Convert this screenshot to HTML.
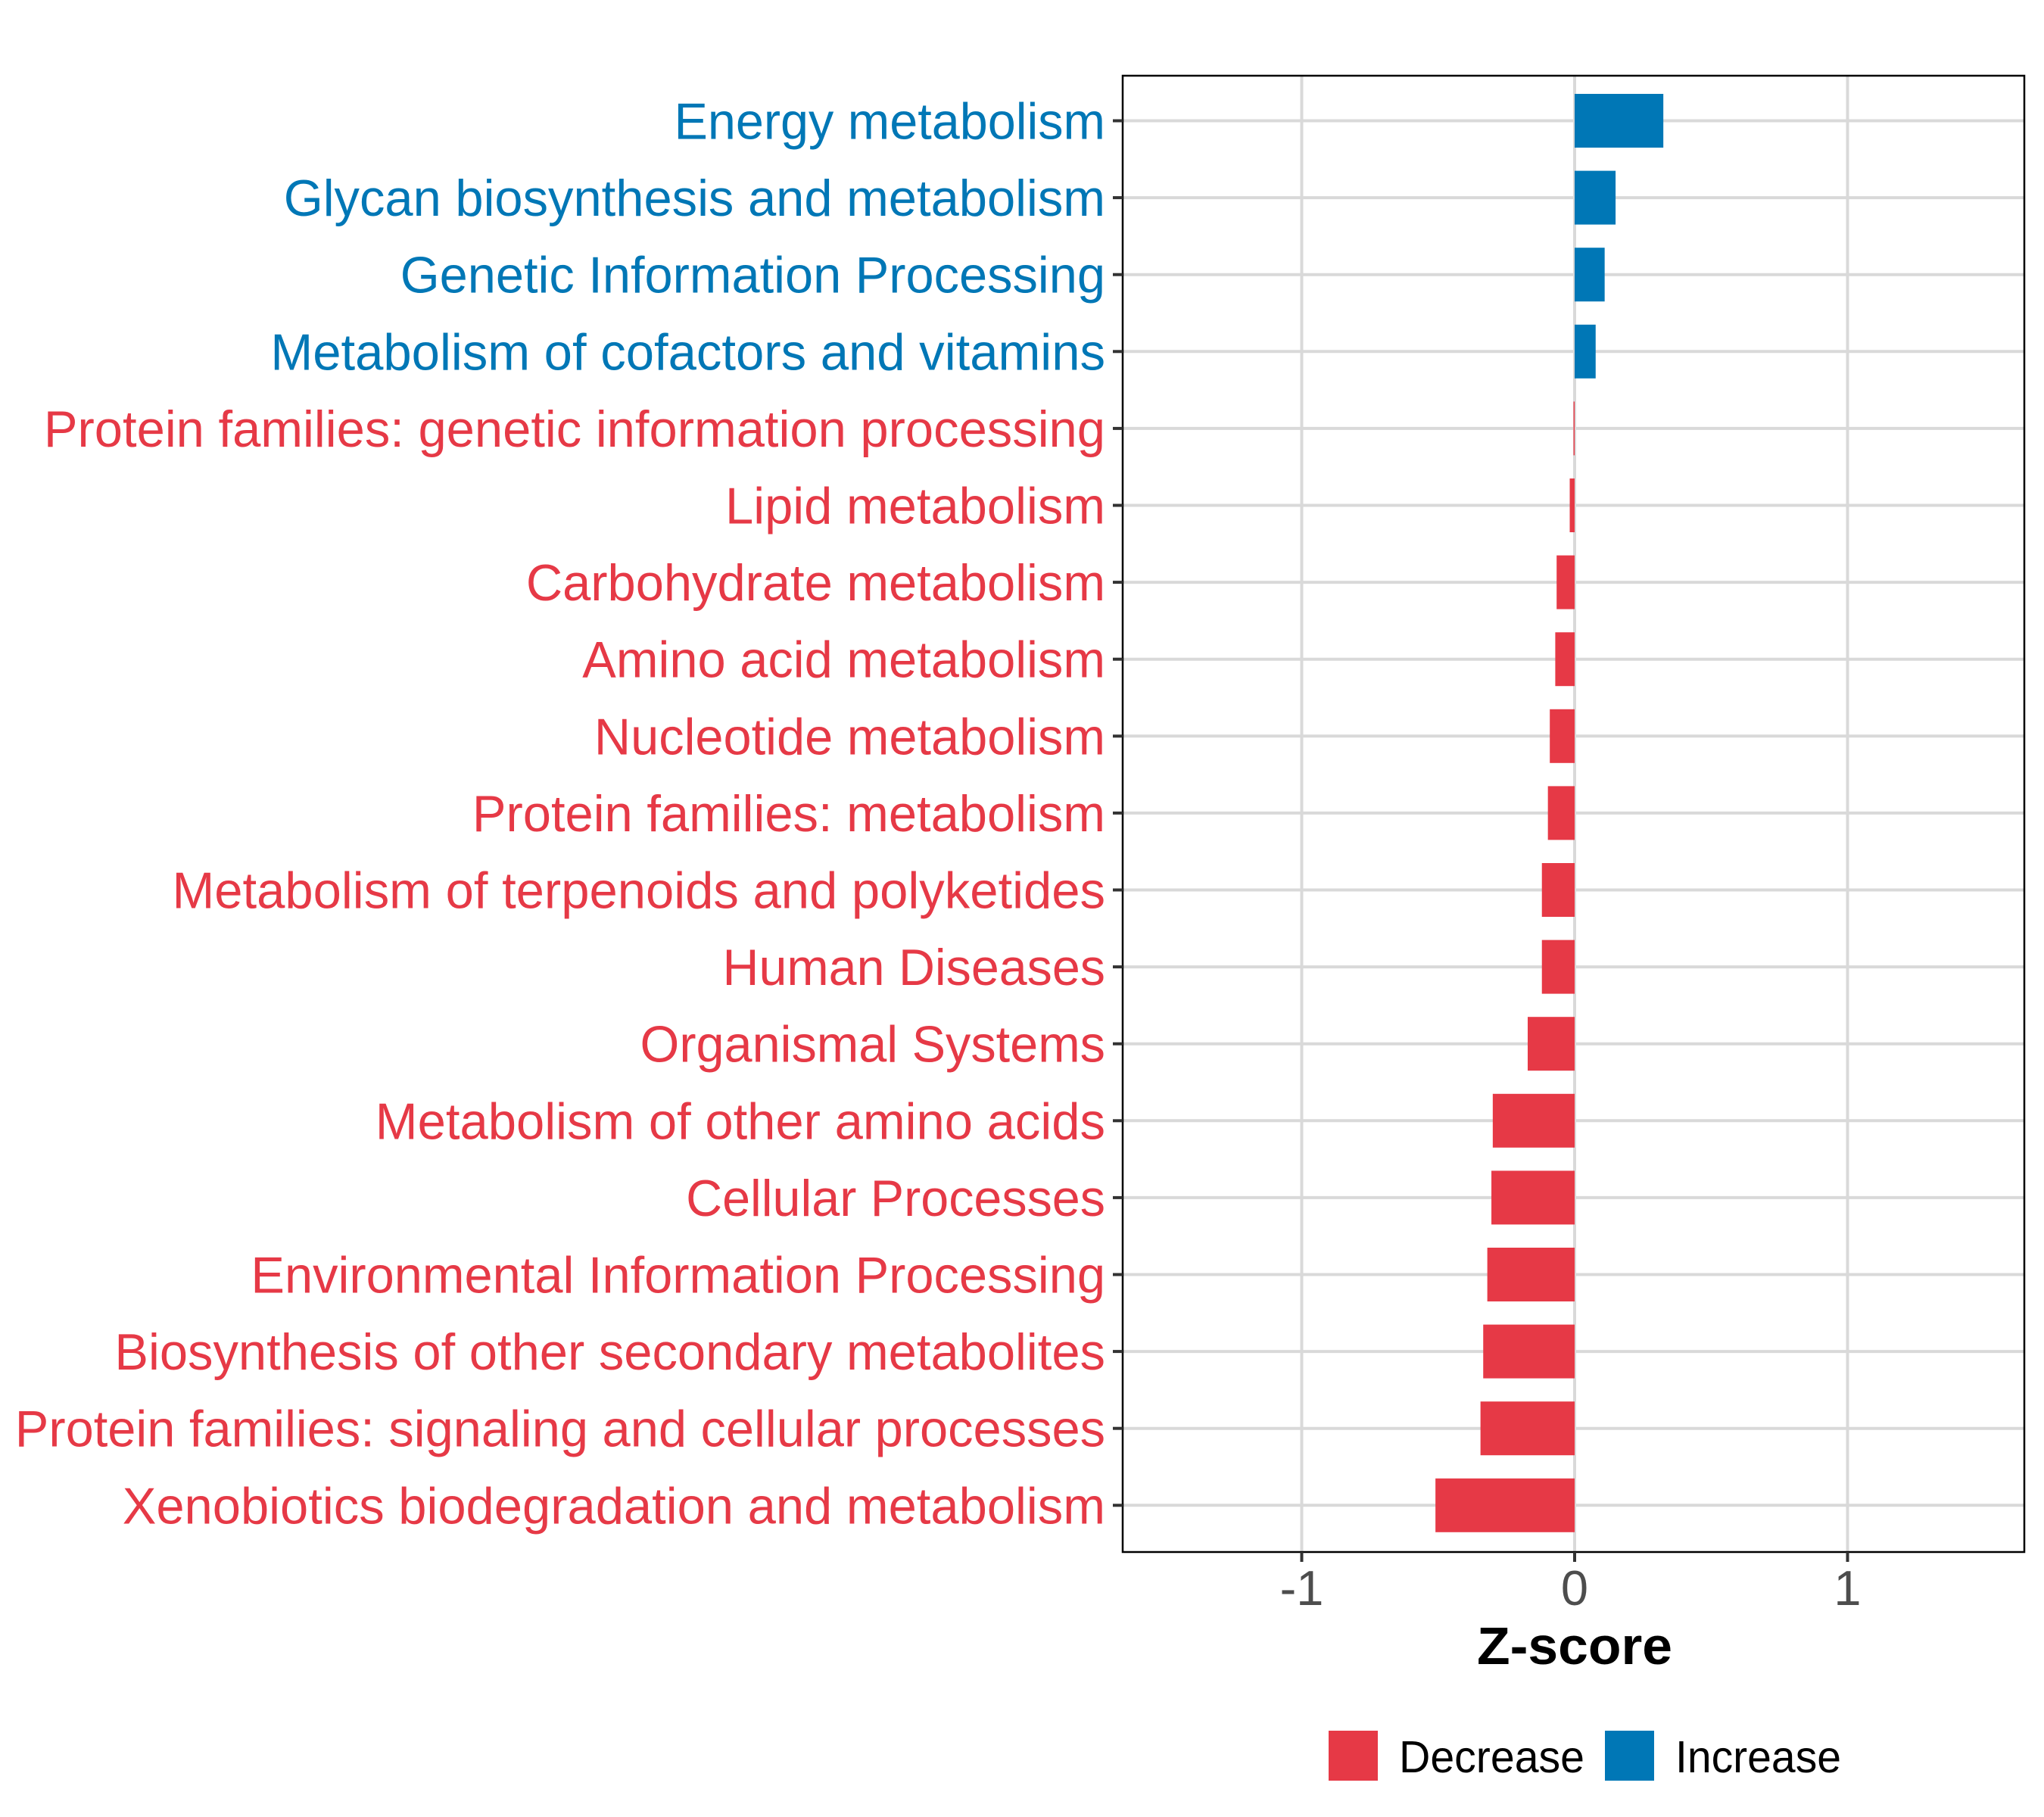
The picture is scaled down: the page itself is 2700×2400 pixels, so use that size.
<!DOCTYPE html>
<html><head><meta charset="utf-8"><style>
html,body{margin:0;padding:0;background:#fff;}
svg{display:block;font-family:"Liberation Sans",Arial,sans-serif;}
</style></head><body>
<svg id="chart" width="2700" height="2400" viewBox="0 0 2700 2400" xmlns="http://www.w3.org/2000/svg">
<rect x="0" y="0" width="2700" height="2400" fill="#fff"/>
<g id="grid"></g>
<g id="bars"></g>
<rect x="1483" y="100" width="1191" height="1950" fill="none" stroke="#000" stroke-width="2.5"/>
<g id="yaxis"></g>
<g id="xaxis"></g>
<text x="2080" y="2198" text-anchor="middle" font-size="70" font-weight="bold" fill="#000" textLength="258" lengthAdjust="spacingAndGlyphs">Z-score</text>
<g>
  <rect x="1755" y="2286" width="65" height="66" fill="#E63946"/>
  <text x="1848" y="2341" font-size="59" fill="#000" textLength="245" lengthAdjust="spacingAndGlyphs">Decrease</text>
  <rect x="2120" y="2286" width="65" height="66" fill="#0077B6"/>
  <text x="2213" y="2341" font-size="59" fill="#000" textLength="219" lengthAdjust="spacingAndGlyphs">Increase</text>
</g>
</svg>
<script>
const categories = ["Energy metabolism","Glycan biosynthesis and metabolism","Genetic Information Processing","Metabolism of cofactors and vitamins","Protein families: genetic information processing","Lipid metabolism","Carbohydrate metabolism","Amino acid metabolism","Nucleotide metabolism","Protein families: metabolism","Metabolism of terpenoids and polyketides","Human Diseases","Organismal Systems","Metabolism of other amino acids","Cellular Processes","Environmental Information Processing","Biosynthesis of other secondary metabolites","Protein families: signaling and cellular processes","Xenobiotics biodegradation and metabolism"];
const zscores = [0.325,0.15,0.11,0.077,-0.004,-0.018,-0.066,-0.071,-0.091,-0.098,-0.12,-0.12,-0.172,-0.30,-0.305,-0.32,-0.335,-0.345,-0.51];
const labelWidthsDisplay = [329,627,538,637,810,290,442,399,390,483,712,292,355,557,320,652,756,832,750];
const xTicks = [-1,0,1];
const xTickLabels = ["-1","0","1"];

const NS="http://www.w3.org/2000/svg";
const pL=1483,pR=2674,pT=100,pB=2050;
const x0px=2080,unit=360.5;
function xs(v){return x0px+v*unit;}
const rowTop=159.5,rowStep=101.6;
function ys(i){return rowTop+i*rowStep;}
const barH=71;
function mk(tag,attrs,parent){const e=document.createElementNS(NS,tag);for(const k in attrs)e.setAttribute(k,attrs[k]);parent.appendChild(e);return e;}
const grid=document.getElementById('grid'),bars=document.getElementById('bars'),yax=document.getElementById('yaxis'),xax=document.getElementById('xaxis');

categories.forEach((c,i)=>{
  const y=ys(i);
  const gl=mk('line',{x1:pL,x2:pR,y1:y,y2:y,stroke:'#d9d9d9','stroke-width':4},grid);
  
  
});
xTicks.forEach(t=>{
  const gl=mk('line',{x1:xs(t),x2:xs(t),y1:pT,y2:pB,stroke:'#d9d9d9','stroke-width':4},grid);
  
  
});
categories.forEach((c,i)=>{
  const v=zscores[i],y=ys(i);
  const x0=xs(0),x1=xs(v);
  const col=v>=0?'#0077B6':'#E63946';
  const r=mk('rect',{x:Math.min(x0,x1),y:y-barH/2,width:Math.max(Math.abs(x1-x0),1.5),height:barH,fill:col},bars);
  
  
  const tk=mk('line',{x1:pL-13,x2:pL,y1:y,y2:y,stroke:'#333','stroke-width':4},yax);
  
  
  const t=mk('text',{x:1460,y:y+24,'text-anchor':'end','font-size':68,fill:col,textLength:(labelWidthsDisplay[i]*1.731).toFixed(1),lengthAdjust:'spacingAndGlyphs'},yax);
  t.textContent=c;
  
  
});
xTicks.forEach((tv,i)=>{
  const x=xs(tv);
  const tk=mk('line',{x1:x,x2:x,y1:pB,y2:pB+13,stroke:'#333','stroke-width':4},xax);
  
  
  const t=mk('text',{x:x,y:2120,'text-anchor':'middle','font-size':65,fill:'#4d4d4d'},xax);
  t.textContent=xTickLabels[i];
  
  
});
</script>
</body></html>
